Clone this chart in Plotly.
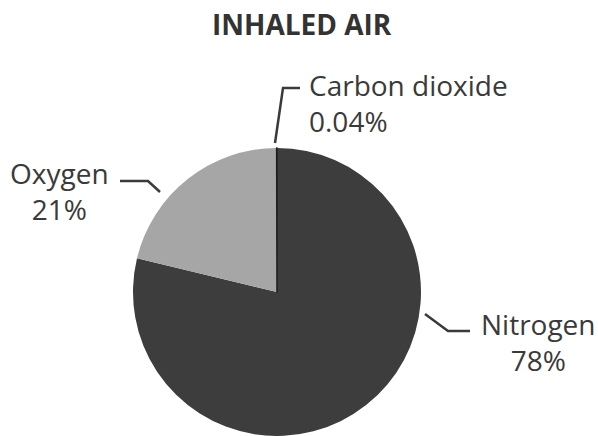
import plotly.graph_objects as go

W, H = 598, 436

title_text = "INHALED AIR"
gases = ["Nitrogen", "Oxygen", "Carbon dioxide"]
percents = [78, 21, 0.04]
pct_labels = ["78%", "21%", "0.04%"]
slice_colors = ["#3d3d3d", "#a6a6a6", "#1e1e1e"]

def px(x):
    return x / W

def py(y):
    return 1 - y / H

cx, cy, r = 277, 292, 144

fig = go.Figure()
fig.add_trace(go.Pie(
    labels=gases,
    values=percents,
    sort=False,
    direction="clockwise",
    rotation=0,
    marker=dict(colors=slice_colors,
                line=dict(color=slice_colors, width=[0, 0, 1.5])),
    textinfo="none",
    hoverinfo="label+percent",
    showlegend=False,
    domain=dict(x=[px(cx - r), px(cx + r)], y=[py(cy + r), py(cy - r)]),
))

txt_color = "#3a3a3a"
font_main = dict(family="Open Sans", size=28, color=txt_color)

# labels
fig.add_annotation(x=px(59), y=py(191), xref="paper", yref="paper",
                   text=f"{gases[1]}<br>{pct_labels[1]}", showarrow=False,
                   xanchor="center", yanchor="middle", align="center", font=font_main)
fig.add_annotation(x=px(538), y=py(342), xref="paper", yref="paper",
                   text=f"{gases[0]}<br>{pct_labels[0]}", showarrow=False,
                   xanchor="center", yanchor="middle", align="center", font=font_main)
fig.add_annotation(x=px(307), y=py(103), xref="paper", yref="paper",
                   text=f"{gases[2]}<br>{pct_labels[2]}", showarrow=False,
                   xanchor="left", yanchor="middle", align="left", font=font_main)

# title
fig.add_annotation(x=px(302), y=py(24), xref="paper", yref="paper",
                   text=f"<b>{title_text}</b>", showarrow=False,
                   xanchor="center", yanchor="middle",
                   font=dict(family="Open Sans", size=28, color="#333333"))

# leader lines
line_style = dict(color="#3a3a3a", width=2.5)
def leader(points):
    path = "M " + " L ".join(f"{px(x)},{py(y)}" for x, y in points)
    fig.add_shape(type="path", path=path, xref="paper", yref="paper", line=line_style)

leader([(120, 181), (148, 181), (160, 192)])
leader([(425, 314), (448, 331), (470, 331)])
leader([(275, 143), (283, 88), (300, 88)])

fig.update_layout(
    width=W, height=H,
    margin=dict(l=0, r=0, t=0, b=0),
    paper_bgcolor="white",
    plot_bgcolor="white",
)

fig.write_html("out.html", config={"displayModeBar": False},
               post_script="document.body.style.margin='0';document.body.style.overflow='hidden';")
